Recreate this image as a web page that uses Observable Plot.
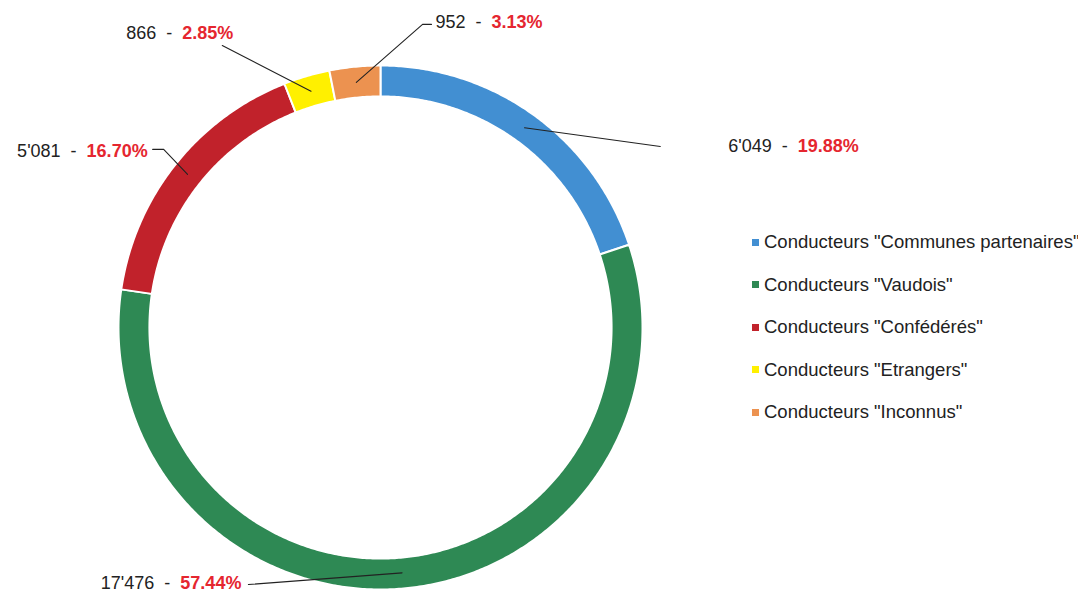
<!DOCTYPE html>
<html>
<head>
<meta charset="utf-8">
<script src="https://cdn.jsdelivr.net/npm/d3@7"></script>
<script src="https://cdn.jsdelivr.net/npm/@observablehq/plot@0.6"></script>
<style>
  html, body { margin: 0; padding: 0; background: #fff; overflow: hidden; }
  #wrap { position: relative; width: 1078px; height: 592px; }
  #legend { position: absolute; left: 752px; top: 221px; font: 18.5px "Liberation Sans", Arial, sans-serif; color: #222; white-space: nowrap; }
  #legend .item { height: 42.5px; display: flex; align-items: center; }
  #legend .sw { width: 7px; height: 7px; margin-right: 5px; flex: none; }
</style>
</head>
<body>
<div id="wrap"><div id="chart"></div><div id="legend"></div></div>
<script>
// ---- data ----
const categories = [
  'Conducteurs "Communes partenaires"',
  'Conducteurs "Vaudois"',
  'Conducteurs "Confédérés"',
  'Conducteurs "Etrangers"',
  'Conducteurs "Inconnus"'
];
const values = [6049, 17476, 5081, 866, 952];
const colors = ["#428fd2", "#2e8954", "#c1222b", "#fff000", "#ec9250"];

// ---- label layout (leader-line elbows, polar: degrees clockwise from top, radius in ring units) ----
const labelLayout = [
  {angle: 57.1, r: 1.272, hook: 0, anchor: "start", dx: 68, dy: 0},
  {angle: 207.2, r: 1.103, hook: 0, anchor: "end", dx: -7, dy: -1},
  {angle: 309.4, r: 1.071, hook: -0.042, anchor: "end", dx: -5, dy: 2},
  {angle: 330.7, r: 1.234, hook: 0, anchor: "end", dx: 11, dy: -12},
  {angle: 7.9, r: 1.168, hook: 0.034, anchor: "start", dx: 4, dy: -2}
];

const rOuter = 1, rInner = 0.882, rLeader = 0.94;
const total = d3.sum(values);
const loc = d3.formatLocale({decimal: ".", thousands: "'", grouping: [3], currency: ["", ""]});
const fmtN = loc.format(",");
const fmtP = d3.format(".2f");
const rad = a => a * Math.PI / 180;
const pt = (a, r) => ({x: r * Math.sin(rad(a)), y: r * Math.cos(rad(a))});

// segments
let cum = 0;
const segs = categories.map((cat, i) => {
  const a0 = cum / total * 360;
  cum += values[i];
  const a1 = cum / total * 360;
  return {cat, a0, a1, mid: (a0 + a1) / 2, value: values[i], pct: values[i] / total * 100};
});

const ringPts = [];
for (const s of segs) {
  const n = Math.max(2, Math.ceil((s.a1 - s.a0) / 0.5));
  const angs = d3.range(n + 1).map(k => s.a0 + (s.a1 - s.a0) * k / n);
  for (const a of angs) ringPts.push({cat: s.cat, ...pt(a, rOuter)});
  for (const a of angs.slice().reverse()) ringPts.push({cat: s.cat, ...pt(a, rInner)});
}

const leaderPts = [];
const labels = [];
segs.forEach((s, i) => {
  const L = labelLayout[i];
  const p0 = pt(s.mid, rLeader);
  const p1 = pt(L.angle, L.r);
  leaderPts.push({cat: s.cat, ...p0}, {cat: s.cat, ...p1});
  let end = p1;
  if (L.hook) {
    end = {x: p1.x + L.hook, y: p1.y};
    leaderPts.push({cat: s.cat, ...end});
  }
  labels.push({cat: s.cat, x: end.x, y: end.y, text: fmtN(s.value) + "\u00a0\u00a0-\u00a0\u00a0|" + fmtP(s.pct) + "%", L});
});

const chart = Plot.plot({
  width: 1078,
  height: 592,
  margin: 0,
  x: {domain: [-1, 1], range: [118, 642], axis: null},
  y: {domain: [-1, 1], range: [589, 65], axis: null},
  color: {domain: categories, range: colors},
  style: {fontFamily: '"Liberation Sans", Arial, sans-serif', background: "#fff", overflow: "visible"},
  marks: [
    Plot.line(ringPts, {x: "x", y: "y", z: "cat", fill: "cat", stroke: "#fff", strokeWidth: 2, curve: "linear-closed"}),
    Plot.line(leaderPts, {x: "x", y: "y", z: "cat", stroke: "#222", strokeWidth: 1.1}),
    ...labels.map(d => Plot.text([d], {
      x: "x", y: "y", text: "text",
      textAnchor: d.L.anchor, dx: d.L.dx, dy: d.L.dy,
      fontSize: 18, fill: "#222"
    }))
  ]
});

// split each label into a black count and a red bold percentage
chart.querySelectorAll('g[aria-label="text"] text').forEach(t => {
  const s = t.textContent;
  if (!s.includes("|")) return;
  const [a, b] = s.split("|");
  t.textContent = "";
  const ns = "http://www.w3.org/2000/svg";
  const t1 = document.createElementNS(ns, "tspan");
  t1.textContent = a;
  const t2 = document.createElementNS(ns, "tspan");
  t2.textContent = b;
  t2.setAttribute("fill", "#e5262f");
  t2.setAttribute("font-weight", "bold");
  t.append(t1, t2);
});

document.getElementById("chart").append(chart);

// legend
const lg = d3.select("#legend");
categories.forEach((c, i) => {
  const it = lg.append("div").attr("class", "item");
  it.append("span").attr("class", "sw").style("background", colors[i]);
  it.append("span").text(c);
});
</script>
</body>
</html>
